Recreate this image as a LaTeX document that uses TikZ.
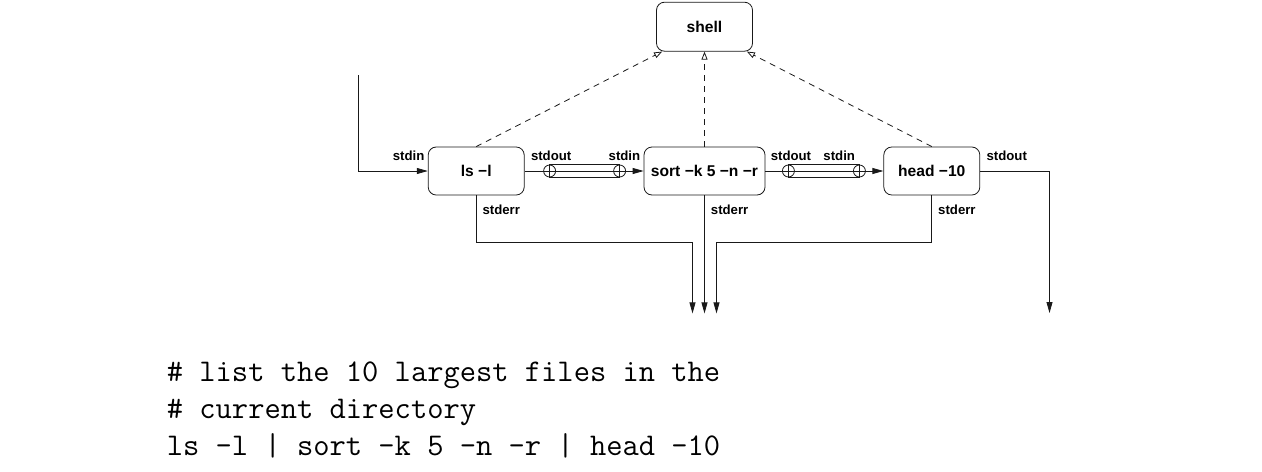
\documentclass[tikz,border=0pt]{standalone}
\usepackage{fontspec}
\setsansfont{Liberation Sans}
\usetikzlibrary{arrows.meta, positioning, calc}
\definecolor{ink}{RGB}{25,25,25}

\begin{document}
\begin{tikzpicture}[x=0.5pt, y=-0.5pt,
      box/.style={rectangle, draw=ink, rounded corners=4pt, align=center,
                  font=\sffamily\bfseries\fontsize{7.8}{9}\selectfont,
                  inner sep=3pt, minimum width=48pt, minimum height=24pt},
      lbl/.style={font=\sffamily\bfseries\fontsize{6.6}{8}\selectfont, inner sep=0pt},
      tap/.style={circle, draw=ink, inner sep=0pt, minimum size=6pt},
      arr/.style={-{Triangle[length=5.5pt, width=3pt]}, ink},
      ctl/.style={-{Triangle[open, length=4pt, width=3pt]}, ink, dash pattern=on 3pt off 2.5pt},
      code/.style={font=\ttfamily\fontsize{15.8}{18.5}\selectfont, align=left, inner sep=0pt},
    ]
    \useasboundingbox (0,0) rectangle (1262,471);
    \node[box, minimum width=60.5pt] (sort) at (704.5,171) {sort −k 5 −n −r};
    \node[box, left=59.5pt of sort] (ls) {ls −l};
    \node[box, right=59pt of sort] (head) {head −10};
    \node[box, above=47.5pt of sort, minimum height=24.5pt] (shell) {shell};
    % pipes
    \node[tap] (tap1a) at ([xshift=12.5pt]ls.east) {};
    \node[tap] (tap1b) at ([xshift=-12pt]sort.west) {};
    \node[tap] (tap2a) at ([xshift=11.5pt]sort.east) {};
    \node[tap] (tap2b) at ([xshift=-12pt]head.west) {};
    \draw[arr] (ls.east) -- (sort.west);
    \draw[arr] (sort.east) -- (head.west);
    \draw[ink] (tap1a.north) rectangle (tap1b.south);
    \draw[ink] (tap2a.north) rectangle (tap2b.south);
    % stream labels
    \node[lbl, anchor=base east] (lsin) at ([shift={(-1.5pt,5.5pt)}]ls.west) {stdin};
    \node[lbl, anchor=base west] (lsout) at ([shift={(3pt,5.5pt)}]ls.east) {stdout};
    \node[lbl, anchor=base east] (sortin) at ([shift={(-1.5pt,5.5pt)}]sort.west) {stdin};
    \node[lbl, anchor=base west] (sortout) at ([shift={(2.5pt,5.5pt)}]sort.east) {stdout};
    \node[lbl, anchor=base east] (headin) at ([shift={(-14pt,5.5pt)}]head.west) {stdin};
    \node[lbl, anchor=base west] (headout) at ([shift={(3pt,5.5pt)}]head.east) {stdout};
    \node[lbl, anchor=base west] (lserr) at ([shift={(3pt,-9.5pt)}]ls.south) {stderr};
    \node[lbl, anchor=base west] (sorterr) at ([shift={(3pt,-9.5pt)}]sort.south) {stderr};
    \node[lbl, anchor=base west] (headerr) at ([shift={(3pt,-9.5pt)}]head.south) {stderr};
    % input and outputs
    \coordinate (src) at (358,75);
    \coordinate[below=59pt of sort.south] (errsink);
    \coordinate (outsink) at (1049.5,313);
    \draw[arr] (src) |- (ls.west);
    \draw[arr] (ls.south) -- ++(0pt,-23.5pt) -| ([xshift=-6pt]errsink);
    \draw[arr] (sort.south) -- (errsink);
    \draw[arr] (head.south) -- ++(0pt,-23.5pt) -| ([xshift=6pt]errsink);
    \draw[arr] (head.east) -| (outsink);
    % control by the shell
    \draw[ctl] (ls.north) -- ([xshift=3pt]shell.south west);
    \draw[ctl] (sort.north) -- (shell.south);
    \draw[ctl] (head.north) -- ([xshift=-3pt]shell.south east);
    \node[code, anchor=base west] (cmd) at (166.5,455.7)
      {\#{} list the 10 largest files in the\\\#{} current directory\\ls -l | sort -k 5 -n -r | head -10};
  \end{tikzpicture}
\end{document}
